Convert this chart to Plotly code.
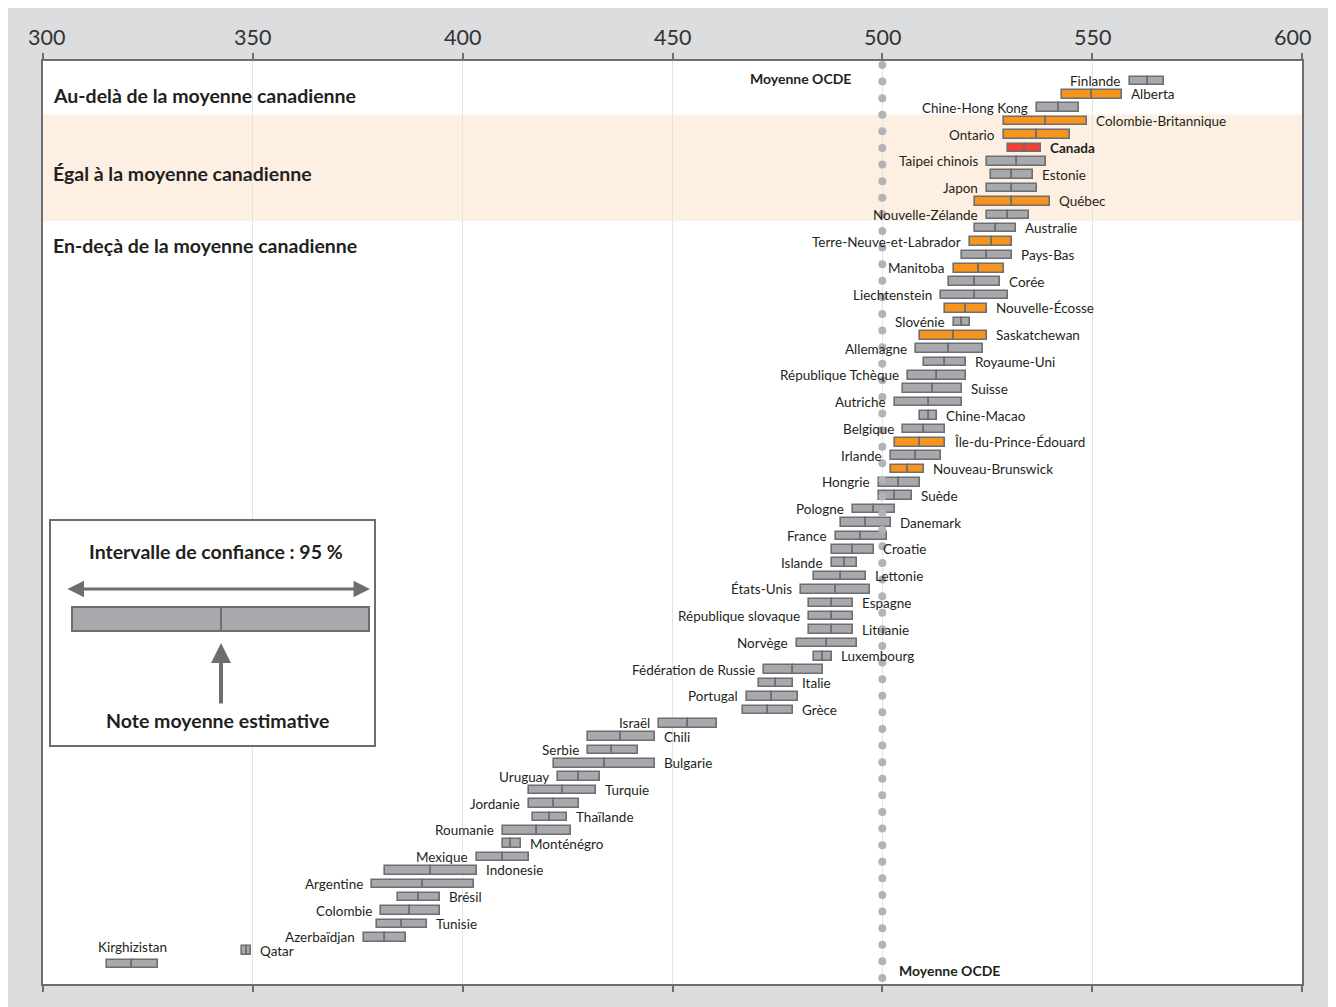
import numpy as np
import plotly.graph_objects as go

# ---------------- data ----------------
countries = [
    "Finlande", "Alberta", "Chine-Hong Kong", "Colombie-Britannique", "Ontario",
    "Canada", "Taipei chinois", "Estonie", "Japon", "Québec",
    "Nouvelle-Zélande", "Australie", "Terre-Neuve-et-Labrador", "Pays-Bas", "Manitoba",
    "Corée", "Liechtenstein", "Nouvelle-Écosse", "Slovénie", "Saskatchewan",
    "Allemagne", "Royaume-Uni", "République Tchèque", "Suisse", "Autriche",
    "Chine-Macao", "Belgique", "Île-du-Prince-Édouard", "Irlande", "Nouveau-Brunswick",
    "Hongrie", "Suède", "Pologne", "Danemark", "France",
    "Croatie", "Islande", "Lettonie", "États-Unis", "Espagne",
    "République slovaque", "Lituanie", "Norvège", "Luxembourg", "Fédération de Russie",
    "Italie", "Portugal", "Grèce", "Israël", "Chili",
    "Serbie", "Bulgarie", "Uruguay", "Turquie", "Jordanie",
    "Thaïlande", "Roumanie", "Monténégro", "Mexique", "Indonesie",
    "Argentine", "Brésil", "Colombie", "Tunisie", "Azerbaïdjan",
    "Qatar", "Kirghizistan",
]

mean_score = [
    563.3, 549.9, 542.0, 539.0, 536.9,
    533.9, 532.0, 531.0, 531.0, 531.0,
    530.0, 527.0, 526.1, 525.0, 523.0,
    522.0, 522.0, 520.0, 519.1, 517.0,
    516.0, 515.0, 513.0, 512.0, 511.0,
    511.0, 510.0, 508.9, 508.0, 506.0,
    504.0, 503.1, 498.0, 496.0, 495.0,
    493.0, 491.0, 490.1, 489.0, 488.0,
    488.0, 488.0, 486.7, 485.8, 478.8,
    474.7, 473.7, 472.7, 453.7, 437.8,
    435.7, 433.8, 427.8, 423.8, 421.8,
    420.8, 417.8, 411.5, 409.5, 392.5,
    390.6, 389.5, 387.5, 385.5, 381.5,
    348.7, 321.3,
]

ci_low = [
    558.9, 542.9, 536.9, 529.0, 529.0,
    530.0, 525.0, 525.9, 525.0, 522.0,
    525.0, 522.0, 521.0, 519.0, 517.0,
    516.0, 514.0, 515.0, 517.0, 508.9,
    508.0, 510.0, 506.0, 505.0, 503.0,
    508.9, 505.0, 503.0, 502.0, 502.0,
    499.1, 499.1, 493.0, 490.1, 489.0,
    488.1, 488.1, 483.7, 480.7, 482.6,
    482.6, 482.6, 479.7, 483.7, 471.7,
    470.7, 467.7, 466.7, 446.7, 429.8,
    429.8, 421.8, 422.8, 415.7, 415.7,
    416.8, 409.5, 409.5, 403.5, 381.5,
    378.5, 384.5, 380.5, 379.5, 376.5,
    347.5, 315.3,
]

ci_high = [
    567.2, 557.0, 546.9, 548.8, 544.8,
    537.9, 539.0, 535.9, 536.9, 539.9,
    534.9, 531.9, 530.9, 530.9, 528.9,
    528.0, 530.0, 525.0, 521.0, 525.0,
    524.0, 520.0, 520.0, 519.0, 519.0,
    513.0, 515.0, 515.0, 514.0, 510.0,
    509.0, 507.0, 503.1, 502.1, 501.0,
    498.0, 494.0, 496.0, 497.1, 493.0,
    493.0, 493.0, 494.0, 488.0, 485.8,
    478.8, 479.8, 478.8, 460.7, 445.8,
    441.8, 445.8, 432.8, 431.8, 427.8,
    424.8, 425.9, 413.9, 415.8, 403.5,
    402.6, 394.5, 394.5, 391.6, 386.6,
    349.6, 327.3,
]

provinces = [
    "Alberta", "Colombie-Britannique", "Ontario", "Québec", "Terre-Neuve-et-Labrador",
    "Manitoba", "Nouvelle-Écosse", "Saskatchewan", "Île-du-Prince-Édouard", "Nouveau-Brunswick",
]
national = "Canada"

oecd_mean = 500
x_ticks = [300, 350, 400, 450, 500, 550, 600]

section_labels = [
    "Au-delà de la moyenne canadienne",
    "Égal à la moyenne canadienne",
    "En-deçà de la moyenne canadienne",
]

# ---------------- styles ----------------
FONT = "Lato, 'Open Sans', sans-serif"
GRAY = "#a7a9ac"
ORANGE = "#f7941d"
RED = "#ef4136"
EDGE = "#6d6e71"
TEXT = "#231f20"
BAND = "#fdf0e2"
BG = "#dcdddf"

BODY = 8  # browser default body margin
W, H = 1328, 999
ML, MR, MT, MB = 35, 34, 53, 23
PW, PH = W - ML - MR, H - MT - MB


def px2x(px):
    # page pixel -> paper fraction
    return (px - BODY - ML) / PW


def py2y(py):
    return 1 - (py - BODY - MT) / PH


n = len(countries)
rows = list(range(n))
colors = [RED if c == national else (ORANGE if c in provinces else GRAY) for c in countries]

fig = go.Figure()

# OECD mean dotted line (drawn first, behind bars)
dot_y = np.arange(-1.2, 67.2, 1.2407)
fig.add_trace(go.Scatter(
    x=[oecd_mean] * len(dot_y), y=dot_y, mode="markers",
    marker=dict(size=8, color="#b1b3b6"), hoverinfo="skip", showlegend=False,
))

# CI bars: left half (low->mean) and right half (mean->high)
fig.add_trace(go.Bar(
    y=rows, x=[m - l for m, l in zip(mean_score, ci_low)], base=ci_low,
    orientation="h", width=0.64,
    marker=dict(color=colors, line=dict(color=EDGE, width=1.6)),
    hoverinfo="skip", showlegend=False,
))
fig.add_trace(go.Bar(
    y=rows, x=[h - m for h, m in zip(ci_high, mean_score)], base=mean_score,
    orientation="h", width=0.64,
    marker=dict(color=colors, line=dict(color=EDGE, width=1.6)),
    hoverinfo="skip", showlegend=False,
))

annotations = []
for i, c in enumerate(countries):
    txt = "<b>%s</b>" % c if c == national else c
    if c == "Kirghizistan":
        annotations.append(dict(x=mean_score[i], y=i - 1.25, xref="x", yref="y", text=txt,
                                showarrow=False, xanchor="center", yanchor="middle",
                                font=dict(family=FONT, size=13.5, color=TEXT)))
    elif i % 2 == 0:
        annotations.append(dict(x=ci_low[i], y=i, xref="x", yref="y", text=txt,
                                showarrow=False, xanchor="right", yanchor="middle", xshift=-7,
                                font=dict(family=FONT, size=13.5, color=TEXT)))
    else:
        annotations.append(dict(x=ci_high[i], y=i, xref="x", yref="y", text=txt,
                                showarrow=False, xanchor="left", yanchor="middle", xshift=7,
                                font=dict(family=FONT, size=13.5, color=TEXT)))

# top tick labels (end labels nudged inward as in the original)
tick_shift = {300: 3, 600: -10}
for t in x_ticks:
    annotations.append(dict(x=t, y=py2y(37), xref="x", yref="paper", text=str(t),
                            showarrow=False, xanchor="center", yanchor="middle",
                            xshift=tick_shift.get(t, 0),
                            font=dict(family=FONT, size=21.5, color="#333333")))

# section labels
for lab, yy in zip(section_labels, [1.12, 6.88, 12.26]):
    annotations.append(dict(x=px2x(51), y=yy, xref="paper", yref="y", text="<b>%s</b>" % lab,
                            showarrow=False, xanchor="left", yanchor="middle",
                            font=dict(family=FONT, size=19.5, color=TEXT)))

# Moyenne OCDE labels
annotations.append(dict(x=oecd_mean, y=-0.22, xref="x", yref="y", text="<b>Moyenne OCDE</b>",
                        showarrow=False, xanchor="right", yanchor="middle", xshift=-29,
                        font=dict(family=FONT, size=14, color=TEXT)))
annotations.append(dict(x=oecd_mean, y=66.45, xref="x", yref="y", text="<b>Moyenne OCDE</b>",
                        showarrow=False, xanchor="left", yanchor="middle", xshift=15,
                        font=dict(family=FONT, size=14, color=TEXT)))

# legend box texts and arrows
annotations.append(dict(x=px2x(216), y=py2y(551), xref="paper", yref="paper",
                        text="<b>Intervalle de confiance : 95 %</b>", showarrow=False,
                        xanchor="center", yanchor="middle",
                        font=dict(family=FONT, size=19.5, color=TEXT)))
annotations.append(dict(x=px2x(217), y=py2y(720), xref="paper", yref="paper",
                        text="<b>Note moyenne estimative</b>", showarrow=False,
                        xanchor="center", yanchor="middle",
                        font=dict(family=FONT, size=19.5, color=TEXT)))
annotations.append(dict(x=px2x(370), y=py2y(589), xref="paper", yref="paper", text="",
                        showarrow=True, ax=-304, ay=0, arrowside="end+start",
                        arrowhead=2, arrowsize=1.1, arrowwidth=3, arrowcolor=EDGE))
annotations.append(dict(x=px2x(221), y=py2y(643), xref="paper", yref="paper", text="",
                        showarrow=True, ax=0, ay=62, arrowhead=2, arrowsize=1,
                        arrowwidth=4, arrowcolor=EDGE))

shapes = [
    # "equal to Canada" band
    dict(type="rect", xref="paper", yref="y", x0=0, x1=1, y0=2.5, y1=10.45,
         fillcolor=BAND, line=dict(width=0), layer="below"),
    # legend box
    dict(type="rect", xref="paper", yref="paper", x0=px2x(50), x1=px2x(375),
         y0=py2y(746), y1=py2y(520), fillcolor="white", line=dict(color=EDGE, width=2),
         layer="above"),
    dict(type="rect", xref="paper", yref="paper", x0=px2x(72), x1=px2x(369),
         y0=py2y(631), y1=py2y(607), fillcolor=GRAY, line=dict(color=EDGE, width=2),
         layer="above"),
    dict(type="line", xref="paper", yref="paper", x0=px2x(221), x1=px2x(221),
         y0=py2y(631), y1=py2y(607), line=dict(color=EDGE, width=2), layer="above"),
]

fig.update_layout(
    width=W, height=H,
    margin=dict(l=ML, r=MR, t=MT, b=MB, pad=0),
    paper_bgcolor=BG, plot_bgcolor="white",
    barmode="overlay", bargap=0,
    showlegend=False,
    annotations=annotations, shapes=shapes,
    font=dict(family=FONT, color=TEXT),
    xaxis=dict(
        range=[300, 600], side="top", tickvals=x_ticks, showticklabels=False,
        ticks="outside", ticklen=6, tickwidth=2, tickcolor=EDGE,
        showline=True, linecolor=EDGE, linewidth=2, mirror="ticks",
        showgrid=True, gridcolor="#e4e4e4", gridwidth=1, zeroline=False,
        fixedrange=True,
    ),
    yaxis=dict(
        range=[67.49, -1.495], showticklabels=False, showgrid=False, zeroline=False,
        showline=True, linecolor=EDGE, linewidth=2, mirror=True, ticks="", fixedrange=True,
    ),
)

fig.write_html("out.html")
